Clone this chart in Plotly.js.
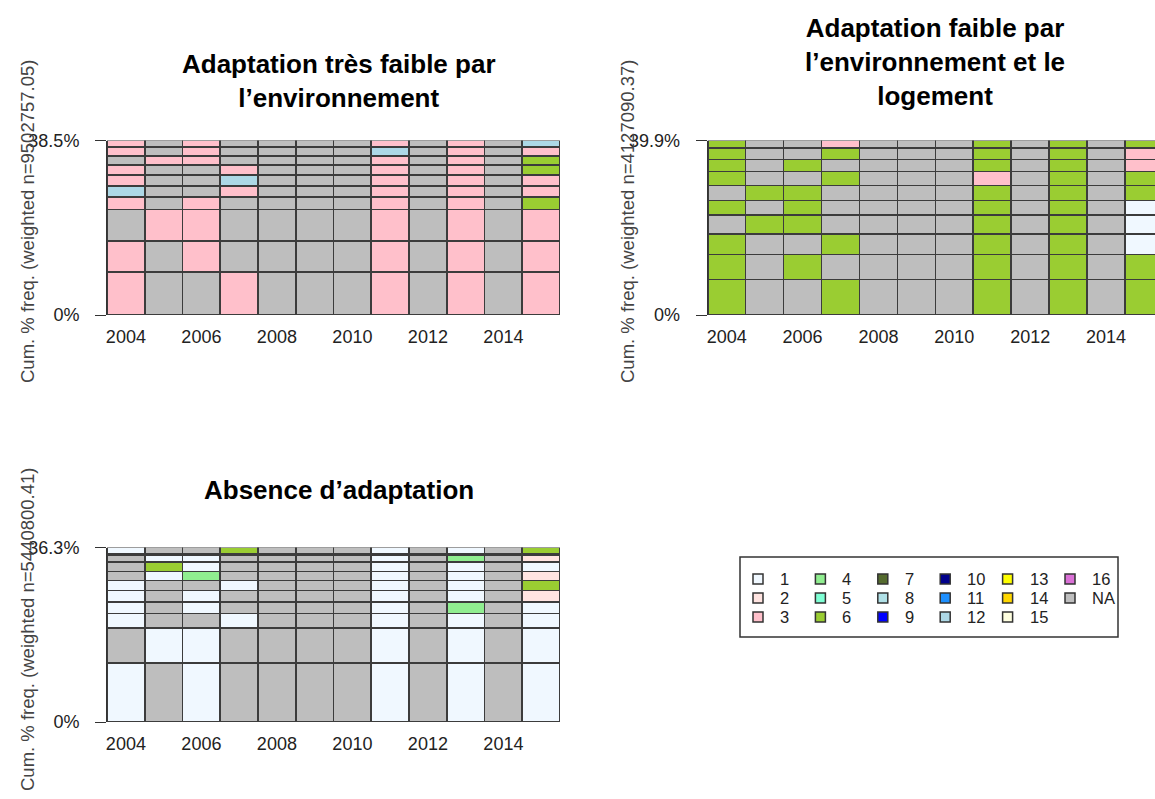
<!DOCTYPE html>
<html><head><meta charset="utf-8">
<script src="https://cdn.plot.ly/plotly-3.0.1.min.js"></script>
<style>html,body{margin:0;padding:0;background:#fff;}#chart{width:1155px;height:799px;}</style>
</head><body><div id="chart"></div>
<script>
// ---------- data ----------
const years = [2004,2005,2006,2007,2008,2009,2010,2011,2012,2013,2014,2015];
const xTickVals = [2004,2006,2008,2010,2012,2014];
const stateLabels = ['1','2','3','4','5','6','7','8','9','10','11','12','13','14','15','16','NA'];
const stateColors = ['#F0F8FF','#FFE4E1','#FFC0CB','#90EE90','#7FFFD4','#9ACD32','#556B2F','#B0E0E6',
                     '#0000FF','#00008B','#1E90FF','#ADD8E6','#FFFF00','#FFD700','#FFFFE0','#DA70D6','#BEBEBE'];

// Panel 1 : rows listed bottom -> top ; weights in cumulative % units
const p1Title = 'Adaptation très faible par<br>l’environnement';
const p1YLabel = 'Cum. % freq. (weighted n=9502757.05)';
const p1Max = 38.5;
const p1Weights = [9.46, 6.82, 7.04, 2.75, 2.42, 2.42, 2.2, 1.98, 1.98, 1.43];
const p1Seqs = [
  ['3','NA','NA','3','NA','NA','NA','3','NA','3','NA','3'],
  ['3','NA','3','NA','NA','NA','NA','3','NA','3','NA','3'],
  ['NA','3','3','NA','NA','NA','NA','3','NA','3','NA','3'],
  ['3','NA','3','NA','NA','NA','NA','3','NA','3','NA','6'],
  ['12','NA','NA','3','NA','NA','NA','3','NA','3','NA','3'],
  ['3','NA','NA','12','NA','NA','NA','3','NA','3','NA','3'],
  ['3','NA','NA','3','NA','NA','NA','3','NA','3','NA','6'],
  ['NA','3','3','NA','NA','NA','NA','3','NA','3','NA','6'],
  ['3','NA','3','NA','NA','NA','NA','12','NA','3','NA','3'],
  ['3','NA','3','NA','NA','NA','NA','3','NA','3','NA','12']
];

// Panel 2
const p2Title = 'Adaptation faible par<br>l’environnement et le<br>logement';
const p2YLabel = 'Cum. % freq. (weighted n=4127090.37)';
const p2Max = 39.9;
const p2Weights = [8.09, 5.7, 4.79, 4.22, 3.42, 3.42, 3.19, 2.74, 2.62, 1.71];
const p2Seqs = [
  ['6','NA','NA','6','NA','NA','NA','6','NA','6','NA','6'],
  ['6','NA','6','NA','NA','NA','NA','6','NA','6','NA','6'],
  ['6','NA','NA','6','NA','NA','NA','6','NA','6','NA','1'],
  ['NA','6','6','NA','NA','NA','NA','6','NA','6','NA','1'],
  ['6','NA','6','NA','NA','NA','NA','6','NA','6','NA','1'],
  ['NA','6','6','NA','NA','NA','NA','6','NA','6','NA','6'],
  ['6','NA','NA','6','NA','NA','NA','3','NA','6','NA','6'],
  ['6','NA','6','NA','NA','NA','NA','6','NA','6','NA','3'],
  ['6','NA','NA','6','NA','NA','NA','6','NA','6','NA','3'],
  ['6','NA','NA','3','NA','NA','NA','6','NA','6','NA','6']
];

// Panel 3
const p3Title = 'Absence d’adaptation';
const p3YLabel = 'Cum. % freq. (weighted n=5440800.41)';
const p3Max = 36.3;
const p3Weights = [12.27, 7.28, 3.02, 2.39, 2.39, 2.08, 1.87, 1.98, 1.46, 0.21, 1.35];
const p3Seqs = [
  ['1','NA','1','NA','NA','NA','NA','1','NA','1','NA','1'],
  ['NA','1','1','NA','NA','NA','NA','1','NA','1','NA','1'],
  ['1','NA','NA','1','NA','NA','NA','1','NA','1','NA','1'],
  ['1','NA','1','NA','NA','NA','NA','1','NA','4','NA','1'],
  ['1','NA','1','NA','NA','NA','NA','1','NA','1','NA','2'],
  ['1','NA','NA','1','NA','NA','NA','1','NA','1','NA','6'],
  ['NA','1','4','NA','NA','NA','NA','1','NA','1','NA','2'],
  ['NA','6','1','NA','NA','NA','NA','1','NA','1','NA','1'],
  ['NA','1','1','NA','NA','NA','NA','1','NA','4','NA','2'],
  ['NA','NA','NA','NA','NA','NA','NA','NA','NA','NA','NA','NA'],
  ['1','NA','NA','6','NA','NA','NA','1','NA','1','NA','6']
];

// ---------- helpers ----------
const W = 1155, H = 799;
const px = x => x / W;
const py = y => 1 - y / H;
const colorOf = s => stateColors[stateLabels.indexOf(s)];
const FONT = 'Liberation Sans, Arial, sans-serif';

function rowTraces(weights, seqs, xa, ya) {
  return weights.map((w, i) => ({
    type: 'bar', x: years, y: years.map(() => w), xaxis: xa, yaxis: ya,
    marker: {color: seqs[i].map(colorOf), line: {color: '#3c3c3c', width: 1.6}},
    hoverinfo: 'skip', showlegend: false
  }));
}

const data = [].concat(
  rowTraces(p1Weights, p1Seqs, 'x', 'y'),
  rowTraces(p2Weights, p2Seqs, 'x2', 'y2'),
  rowTraces(p3Weights, p3Seqs, 'x3', 'y3')
);

function xAxis(dom, rng, yref) {
  return {domain: dom, range: rng, anchor: yref, tickvals: xTickVals, showgrid: false, zeroline: false,
    showline: false, ticks: 'outside', ticklen: 0, ticklabelstandoff: 5,
    tickfont: {family: FONT, size: 18, color: '#222'}, fixedrange: true};
}
function yAxis(dom, max, xref) {
  return {domain: dom, range: [0, max], anchor: xref, tickvals: [0, max], ticktext: ['0%', max + '%'],
    showgrid: false, zeroline: false, showline: true, linecolor: '#333', linewidth: 1,
    ticks: 'outside', ticklen: 11, tickcolor: '#333', ticklabelstandoff: 12,
    tickfont: {family: FONT, size: 18, color: '#222'}, fixedrange: true};
}

const colW = 37.94;
const layout = {
  width: W, height: H, margin: {l: 0, r: 0, t: 0, b: 0},
  paper_bgcolor: '#fff', plot_bgcolor: '#fff',
  barmode: 'stack', bargap: 0, showlegend: false,
  xaxis: xAxis([px(107), px(560)], [2003.5, 2015.5], 'y'),
  yaxis: yAxis([py(315), py(140.5)], p1Max, 'x'),
  xaxis2: xAxis([px(707.7), 1], [2003.5, 2003.5 + (W - 707.7) / colW], 'y2'),
  yaxis2: yAxis([py(315), py(140.5)], p2Max, 'x2'),
  xaxis3: xAxis([px(107), px(560)], [2003.5, 2015.5], 'y3'),
  yaxis3: yAxis([py(722), py(547.5)], p3Max, 'x3'),
  shapes: [], annotations: []
};

// titles
const titleFont = {family: FONT, size: 26, color: '#000'};
[[p1Title, 339, 81], [p2Title, 935, 62], [p3Title, 339, 490]].forEach(([t, x, y]) => {
  layout.annotations.push({text: '<b>' + t + '</b>', x: px(x), y: py(y), xref: 'paper', yref: 'paper',
    xanchor: 'center', yanchor: 'middle', showarrow: false, font: titleFont});
});
// y-axis titles
[[p1YLabel, 27, 222], [p2YLabel, 627, 222], [p3YLabel, 27, 630]].forEach(([t, x, y]) => {
  layout.annotations.push({text: t, x: px(x), y: py(y), xref: 'paper', yref: 'paper', textangle: -90,
    xanchor: 'center', yanchor: 'middle', showarrow: false, font: {family: FONT, size: 18.5, color: '#444'}});
});

// legend box
layout.shapes.push({type: 'rect', xref: 'paper', yref: 'paper', x0: px(740), x1: px(1118), y0: py(557), y1: py(637),
  line: {color: '#333', width: 1.5}, fillcolor: 'rgba(0,0,0,0)'});
stateLabels.forEach((lab, i) => {
  const c = Math.floor(i / 3), r = i % 3;
  const sx = 753 + c * 62.4, sy = 579 + r * 19;
  layout.shapes.push({type: 'rect', xref: 'paper', yref: 'paper', x0: px(sx), x1: px(sx + 10),
    y0: py(sy - 5), y1: py(sy + 5), line: {color: '#333', width: 1.5}, fillcolor: stateColors[i]});
  layout.annotations.push({text: lab, x: px(sx + 25), y: py(sy), xref: 'paper', yref: 'paper',
    xanchor: 'left', yanchor: 'middle', showarrow: false, font: {family: FONT, size: 16.5, color: '#222'}});
});

Plotly.newPlot('chart', data, layout, {staticPlot: true, displayModeBar: false});
</script></body></html>
